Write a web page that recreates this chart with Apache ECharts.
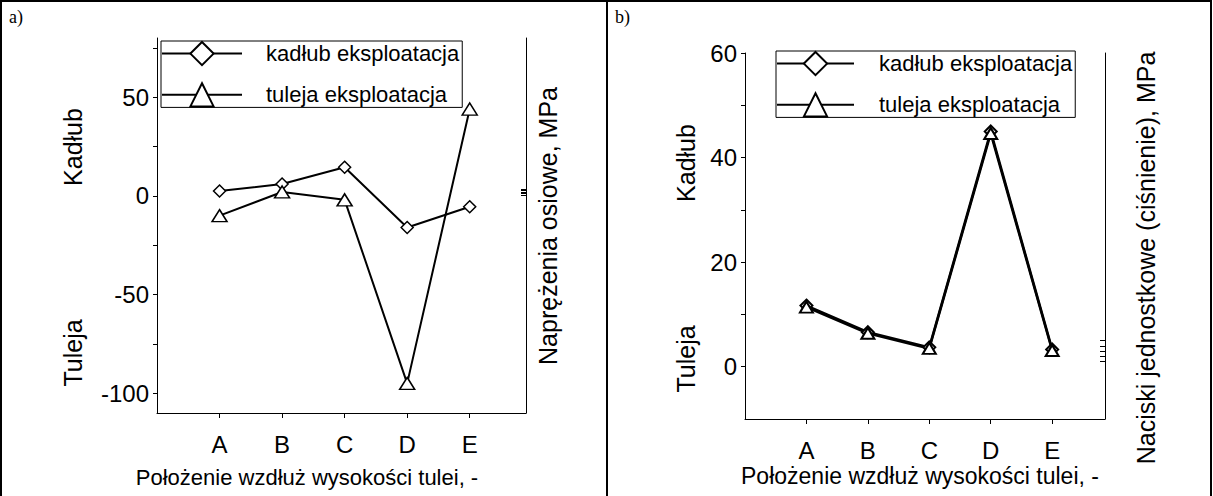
<!DOCTYPE html>
<html>
<head>
<meta charset="utf-8">
<script src="https://cdn.jsdelivr.net/npm/echarts@6/dist/echarts.min.js"></script>
<style>
  html, body { margin: 0; padding: 0; background: #fff; }
  #chart { width: 1213px; height: 496px; }
</style>
</head>
<body>
<div id="chart"></div>
<script>
// dane
var categories = ['A', 'B', 'C', 'D', 'E'];
var seriesNames = ['kadłub eksploatacja', 'tuleja eksploatacja'];

// a) naprężenia osiowe, MPa
var kadlubAxial = [2.5, 6, 14.5, -16, -5.5];
var tulejaAxial = [-10, 2, -2, -95, 44];
var axialLabels = [-100, -50, 0, 50];
var axialTicks = [-100, -75, -50, -25, 0, 25, 50, 75];

// b) naciski jednostkowe (ciśnienie), MPa
var kadlubPressure = [11.7, 6.6, 3.7, 45, 3.3];
var tulejaPressure = [11.4, 6.4, 3.5, 44.6, 3.1];
var pressureLabels = [0, 20, 40, 60];
var pressureTicks = [0, 10, 20, 30, 40, 50, 60];

// drobne kreski na prawej osi (artefakt z oryginału)
var axialRightTicks = [0.5, 1.25, 2, 2.75, 3.5];
var pressureRightTicks = [1, 2, 3, 4, 5];

var FONT = '"Liberation Sans", Arial, sans-serif';
var SERIF = '"Liberation Serif", "Times New Roman", serif';
var catPos = categories.map(function(c, i) { return i + 1; });

function pairs(values) {
  return values.map(function(v, i) { return [catPos[i], v]; });
}

function xAxis(idx, max) {
  return {
    type: 'value', gridIndex: idx, min: 0, max: max,
    axisLine: { show: true, onZero: false, lineStyle: { color: '#000', width: 1 } },
    axisTick: { show: true, length: 5, customValues: catPos, lineStyle: { color: '#000' } },
    axisLabel: {
      customValues: catPos, margin: 19, fontSize: 24, color: '#000', fontFamily: FONT,
      formatter: function(v) { return categories[v - 1]; }
    },
    splitLine: { show: false }
  };
}

function leftAxis(idx, min, max, labels, ticks) {
  return {
    type: 'value', gridIndex: idx, min: min, max: max, position: 'left',
    axisLine: { show: true, lineStyle: { color: '#000', width: 1 } },
    axisTick: { show: true, length: 4, customValues: ticks, lineStyle: { color: '#000' } },
    axisLabel: { customValues: labels, margin: 8, fontSize: 24, color: '#000', fontFamily: FONT },
    splitLine: { show: false }
  };
}

function rightAxis(idx, min, max, ticks) {
  return {
    type: 'value', gridIndex: idx, min: min, max: max, position: 'right',
    axisLine: { show: true, lineStyle: { color: '#000', width: 1 } },
    axisTick: { show: true, inside: true, length: 5, customValues: ticks, lineStyle: { color: '#000' } },
    axisLabel: { show: false },
    splitLine: { show: false }
  };
}

function lineSeries(name, data, xi, yi, symbol, size, lw, bw) {
  return {
    name: name, type: 'line', xAxisIndex: xi, yAxisIndex: yi,
    data: pairs(data),
    symbol: symbol, symbolSize: size, showAllSymbol: true,
    lineStyle: { color: '#000', width: lw },
    itemStyle: { color: '#fff', borderColor: '#000', borderWidth: bw },
    animation: false
  };
}

function legend(left, top, itemWidth, textPad) {
  return {
    orient: 'vertical', left: left, top: top,
    data: seriesNames,
    itemWidth: itemWidth, itemHeight: 29, itemGap: 16,
    padding: [0, 3, 0, 0],
    borderColor: '#000', borderWidth: 1,
    selectedMode: false,
    itemStyle: { borderWidth: 2 },
    lineStyle: { width: 2 },
    textStyle: { fontSize: 22, color: '#000', fontFamily: FONT, padding: [0, 0, 0, textPad] }
  };
}

function vtext(x, y, text, size) {
  return {
    type: 'text', x: x, y: y, rotation: Math.PI / 2,
    style: { text: text, x: 0, y: 0, align: 'center', verticalAlign: 'middle',
             font: size + 'px ' + FONT, fill: '#000' }
  };
}

function htext(x, y, text, size, family, align) {
  return {
    type: 'text', x: x, y: y,
    style: { text: text, align: align || 'center', verticalAlign: 'middle',
             font: size + 'px ' + (family || FONT), fill: '#000' }
  };
}

var chart = echarts.init(document.getElementById('chart'), null, { renderer: 'svg' });

chart.setOption({
  backgroundColor: '#fff',
  animation: false,
  grid: [
    { left: 157, top: 38, width: 369, height: 375 },
    { left: 745, top: 53, width: 360, height: 366 }
  ],
  xAxis: [xAxis(0, 5.9), xAxis(1, 5.86)],
  yAxis: [
    leftAxis(0, -110, 80, axialLabels, axialTicks),
    rightAxis(0, -110, 80, axialRightTicks),
    leftAxis(1, -10, 60, pressureLabels, pressureTicks),
    rightAxis(1, -10, 60, pressureRightTicks)
  ],
  legend: [legend(161, 41, 80, 19), legend(776, 51, 77, 20)],
  series: [
    lineSeries(seriesNames[0], kadlubAxial, 0, 0, 'diamond', 12, 2, 1.5),
    lineSeries(seriesNames[1], tulejaAxial, 0, 0, 'triangle', [15, 12], 2, 1.5),
    lineSeries(seriesNames[0], kadlubPressure, 1, 2, 'diamond', 12, 2.5, 2),
    lineSeries(seriesNames[1], tulejaPressure, 1, 2, 'triangle', [13, 11], 2.5, 2)
  ],
  graphic: [
    { type: 'rect', shape: { x: 1, y: 1, width: 1210, height: 503 },
      style: { fill: 'none', stroke: '#000', lineWidth: 2 }, silent: true },
    { type: 'line', shape: { x1: 607, y1: 1, x2: 607, y2: 496 },
      style: { stroke: '#000', lineWidth: 2 }, silent: true },
    htext(9, 17, 'a)', 18, SERIF, 'left'),
    htext(615, 17, 'b)', 18, SERIF, 'left'),
    vtext(73, 147, 'Kadłub', 25),
    vtext(73, 353, 'Tuleja', 25),
    vtext(548, 226, 'Naprężenia osiowe, MPa', 25),
    htext(307, 477, 'Położenie wzdłuż wysokości tulei, -', 22),
    vtext(686, 163, 'Kadłub', 25),
    vtext(686, 359, 'Tuleja', 25),
    vtext(1146, 258, 'Naciski jednostkowe (ciśnienie), MPa', 25),
    htext(920, 476, 'Położenie wzdłuż wysokości tulei, -', 23)
  ]
});
</script>
</body>
</html>
